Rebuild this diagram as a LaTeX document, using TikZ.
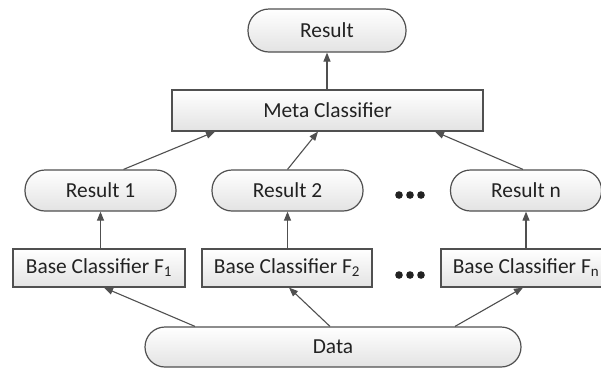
\documentclass[tikz,border=0pt]{standalone}
\usepackage{fontspec}
\setmainfont{Carlito}
\usetikzlibrary{arrows.meta,calc}
\definecolor{edgec}{HTML}{505050}
\definecolor{txtc}{HTML}{222222}
\begin{document}
\begin{tikzpicture}[x=1pt,y=-1pt,
  basenode/.style={draw=edgec, line width=1.2pt, top color=white, bottom color=black!11, text=txtc,
    font=\fontsize{21.4}{24}\selectfont, inner sep=0pt, anchor=center},
  pill/.style={basenode, rounded corners=20pt, minimum width=151pt, minimum height=41pt},
  boxx/.style={basenode, rectangle, minimum height=38pt},
  conn/.style={draw=edgec, line width=1.1pt, -{Triangle[length=9pt,width=7pt]}},
  dotc/.style={fill=txtc}
]
\useasboundingbox (0,0) rectangle (601,368);
\clip (0,0) rectangle (601,368);
\fill[white] (0,0) rectangle (601,368);

\node[pill, minimum width=158pt, minimum height=43pt, rounded corners=21pt] (res) at (327,30.5) {Result};
\node[boxx, minimum width=311pt, minimum height=41pt] (meta) at (327.5,110.5) {Meta Classifier};
\node[pill] (r1) at (100.5,190.5) {Result 1};
\node[pill] (r2) at (287.5,190.5) {Result 2};
\node[pill] (rn) at (526,190.5) {Result n};
\node[boxx, minimum width=172pt] (b1) at (99,268) {Base Classifier F\textsubscript{1}};
\node[boxx, minimum width=170pt] (b2) at (287,268) {Base Classifier F\textsubscript{2}};
\node[boxx, minimum width=170pt] (bn) at (526,268) {Base Classifier F\textsubscript{n}};
\node[pill, minimum width=376pt, minimum height=40pt] (data) at (333,347) {Data};

\draw[conn] (meta.north -| res.south) -- (res.south);
\draw[conn] ([xshift=23pt]r1.north) -- ([xshift=-112.5pt]meta.south);
\draw[conn] (r2.north) -- ([xshift=-9.5pt]meta.south);
\draw[conn] ([xshift=-3pt]rn.north) -- ([xshift=107.5pt]meta.south);
\draw[conn] (b1.north -| r1.south) -- (r1.south);
\draw[conn] (b2.north -| r2.south) -- (r2.south);
\draw[conn] (bn.north -| rn.south) -- (rn.south);
\draw[conn] ([xshift=-138pt]data.north) -- ([xshift=5pt]b1.south);
\draw[conn] ([xshift=-3pt]data.north) -- ([xshift=2pt]b2.south);
\draw[conn] ([xshift=122pt]data.north) -- ([xshift=-3pt]bn.south);

\foreach \dx in {399,410,421}{
  \fill[dotc] (\dx,195) circle (3.8pt);
  \fill[dotc] (\dx,275) circle (3.8pt);
}
\end{tikzpicture}
\end{document}
